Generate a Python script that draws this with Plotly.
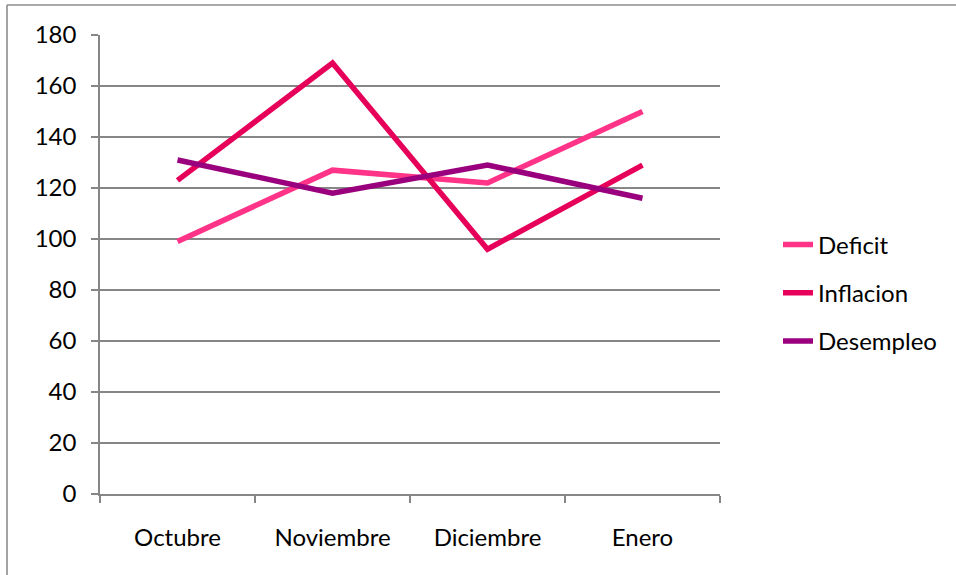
import plotly.graph_objects as go

categories = ["Octubre", "Noviembre", "Diciembre", "Enero"]
deficit = [99, 127, 122, 150]
inflacion = [123, 169, 96, 129]
desempleo = [131, 118, 129, 116]
y_ticks = [0, 20, 40, 60, 80, 100, 120, 140, 160, 180]

series = [
    ("Deficit", deficit, "#FF3388"),
    ("Inflacion", inflacion, "#E6005A"),
    ("Desempleo", desempleo, "#9A007E"),
]

fig = go.Figure()
for name, vals, col in series:
    fig.add_trace(go.Scatter(
        x=categories, y=vals, name=name, mode="lines",
        line=dict(color=col, width=5.5), legendgroup=name,
    ))

L, R, T, B = 100, 236, 35, 81
W, H = 956, 575
pw, ph = W - L - R, H - T - B

font = dict(family="Lato, 'Open Sans', sans-serif", size=24, color="#000000")
gray = "#868686"

fig.update_layout(
    width=W, height=H,
    margin=dict(l=L, r=R, t=T, b=B, autoexpand=False),
    paper_bgcolor="white", plot_bgcolor="white",
    font=font,
    showlegend=True,
    legend=dict(
        x=(778 - L) / pw, xanchor="left",
        y=(494 - 293) / ph, yanchor="middle",
        font=font, tracegroupgap=14, bgcolor="rgba(0,0,0,0)",
    ),
    xaxis=dict(
        type="category", tickson="boundaries", ticks="outside", ticklen=7,
        tickcolor=gray, tickwidth=1.6,
        showline=True, linecolor=gray, linewidth=1.6,
        showgrid=False, zeroline=False,
        range=[-0.5, 3.5], ticklabelstandoff=21, tickfont=font,
    ),
    yaxis=dict(
        range=[0, 180], tickvals=y_ticks, ticks="outside", ticklen=7,
        tickcolor=gray, tickwidth=1.6,
        showline=True, linecolor=gray, linewidth=1.6,
        showgrid=True, gridcolor=gray, gridwidth=1.6,
        zeroline=False, ticklabelstandoff=10, tickfont=font,
    ),
    shapes=[
        dict(type="line", xref="paper", yref="paper",
             x0=(7 - L) / pw, x1=(W + 10 - L) / pw,
             y0=1 + (T - 5) / ph, y1=1 + (T - 5) / ph,
             line=dict(color="#8C8C8C", width=1.6)),
        dict(type="line", xref="paper", yref="paper",
             x0=(7 - L) / pw, x1=(7 - L) / pw,
             y0=1 + (T - 5) / ph, y1=-(B + 10) / ph,
             line=dict(color="#8C8C8C", width=1.6)),
    ],
)

fig.write_html("out.html", config={"displayModeBar": False},
               post_script="document.body.style.margin='0';document.body.style.overflow='hidden';")
